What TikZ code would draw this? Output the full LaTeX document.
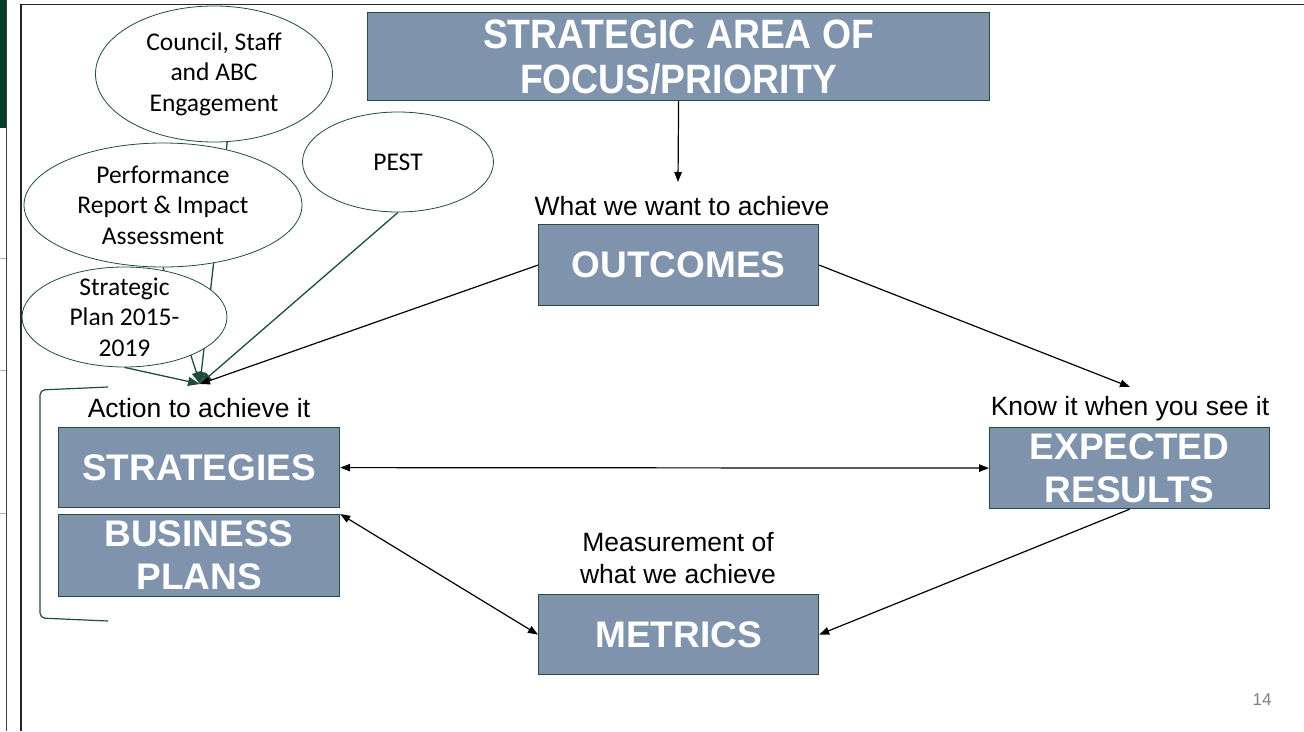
\documentclass[tikz,border=0pt]{standalone}
\usepackage{fontspec}
\setmainfont{Liberation Sans}
\newfontfamily\calibri{Carlito}
\usetikzlibrary{shapes.geometric,arrows.meta,backgrounds}

\definecolor{boxfill}{RGB}{127,147,173}
\definecolor{boxedge}{RGB}{38,78,64}
\definecolor{leafgreen}{RGB}{30,77,59}
\definecolor{stripgreen}{RGB}{4,61,42}

\begin{document}
\begin{tikzpicture}[x=1pt,y=-1pt,
  stage/.style={draw=boxedge, line width=1.2pt, fill=boxfill, text=white,
    font=\fontsize{37}{43}\selectfont\bfseries, align=center,
    inner sep=0pt, anchor=north west},
  caption/.style={font=\fontsize{26.5}{32}\selectfont, align=center, inner sep=0pt},
  source/.style={ellipse, draw=leafgreen, line width=0.8pt, fill=white, inner sep=0pt},
  sourcetext/.style={font=\calibri\fontsize{25.5}{30.5}\selectfont, align=center, inner sep=0pt},
  flow/.style={line width=1.2pt, -{Triangle[length=10pt,width=7.5pt]}},
  twoway/.style={line width=1.2pt, {Triangle[length=10pt,width=7.5pt]}-{Triangle[length=10pt,width=7.5pt]}},
  leafline/.style={draw=leafgreen, line width=1.3pt, -{Triangle[length=12pt,width=9pt]}}]

\useasboundingbox (0,0) rectangle (1304,731);

% slide chrome on the left and the content frame
\fill[stripgreen] (0,0) rectangle (7,128);
\draw[black!75, line width=1pt] (6.5,0) -- (6.5,731);
\foreach \yy in {258,370,513} \draw[gray!60, line width=0.8pt] (0,\yy) -- (6,\yy);
\draw[black!85, line width=1.3pt] (21,731) -- (21,4.5) -- (1304,4.5);

% main boxes
\node[stage, minimum width=622pt, minimum height=88pt,
  label={[text=white, inner sep=0pt, yshift=-5pt]center:%
    \scalebox{0.91}[1]{\fontsize{41}{45}\selectfont\bfseries
    \begin{tabular}{@{}c@{}}STRATEGIC AREA OF\\FOCUS/PRIORITY\end{tabular}}}] (focus) at (367,12) {};
\node[stage, minimum width=280pt, minimum height=81pt] (outcomes) at (538,224) {OUTCOMES};
\node[stage, minimum width=280pt, minimum height=81pt] (expected) at (989,427) {EXPECTED\\RESULTS};
\node[stage, minimum width=281pt, minimum height=80pt] (strategies) at (58,427) {STRATEGIES};
\node[stage, minimum width=281pt, minimum height=82pt] (business) at (58,514) {BUSINESS\\PLANS};
\node[stage, minimum width=280pt, minimum height=80pt] (metrics) at (538,594) {METRICS};

% captions above the boxes
\node[caption] (want) at (682,206) {What we want to achieve};
\node[caption] (know) at (1130,409) {Know it when you see it};
\node[caption] (action) at (199,408) {Action to achieve it};
\node[caption] (measure) at (678,558) {Measurement of\\what we achieve};

% free ends of the arrows
\coordinate (wantTop) at (678,182);
\coordinate (knowTop) at (1130,387);
\coordinate (conv) at (200,384);

% input sources
\node[source, minimum width=237pt, minimum height=136pt,
  label={[sourcetext]center:Council, Staff\\and ABC\\Engagement}] (council) at (214,74) {};
\node[source, minimum width=278pt, minimum height=124pt,
  label={[sourcetext]center:Performance\\Report \& Impact\\Assessment}] (perf) at (163,205) {};
\node[source, minimum width=191pt, minimum height=100pt,
  label={[sourcetext]center:PEST}] (pest) at (398,162) {};
\node[source, minimum width=205pt, minimum height=100pt,
  label={[sourcetext]center:Strategic\\Plan 2015-\\2019}] (splan) at (124.5,317) {};

\begin{scope}[on background layer]
  \draw[leafline] (council.-79) -- (conv);
  \draw[leafline] (perf.south) -- (conv);
  \draw[leafline] (splan.south) -- (conv);
  \draw[leafline] (pest.south) -- (conv);
\end{scope}

% bracket around strategies and business plans
\draw[leafgreen, line width=1.2pt, rounded corners=5pt]
  (108,387) -- (40,390) -- (40,618) -- (108,621);

% connectors
\draw[flow] (focus.south) -- (wantTop);
\draw[flow] (outcomes.east) -- (knowTop);
\draw[flow] (outcomes.west) -- (conv);
\draw[twoway] (strategies.east) -- (expected.west);
\draw[twoway] (business.north east) -- (metrics.west);
\draw[flow] (expected.south) -- (metrics.east);

% page number
\node[text=gray, font=\fontsize{17}{20}\selectfont, inner sep=0pt] (pagenum) at (1262,700) {14};
\end{tikzpicture}
\end{document}
